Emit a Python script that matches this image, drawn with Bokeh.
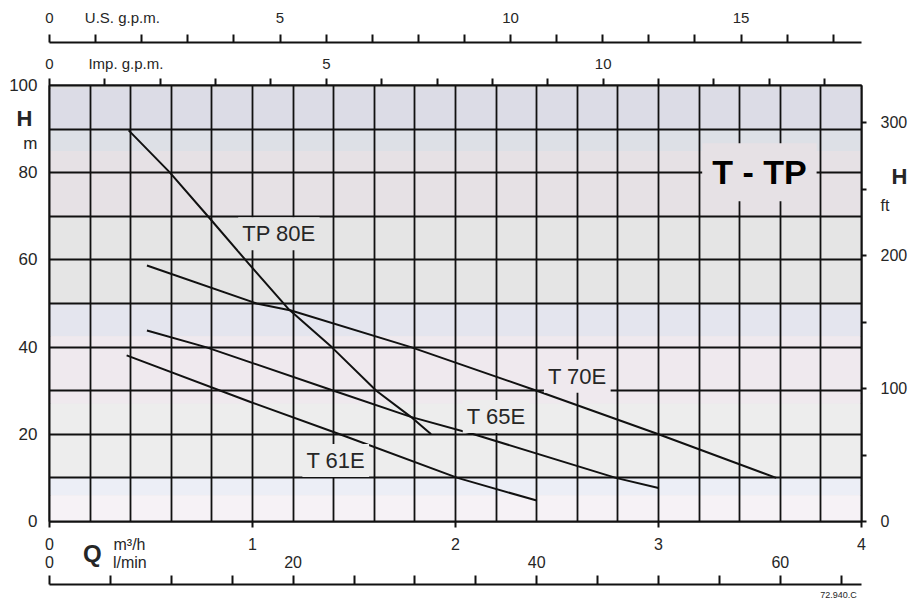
from bokeh.plotting import figure
from bokeh.models import LinearAxis, Range1d, FixedTicker, Grid, Label, BoxAnnotation
from bokeh.embed import file_html
from bokeh.resources import INLINE

# ---------------- data ----------------
tp80_q = [0.39, 0.59, 0.79, 0.98, 1.18, 1.39, 1.61, 1.78, 1.88]
tp80_h = [89.7, 80.2, 69.5, 59.2, 48.6, 40.0, 30.0, 24.0, 20.0]
t70_q = [0.48, 1.02, 1.19, 1.78, 2.40, 3.00, 3.58]
t70_h = [58.7, 50.0, 48.4, 40.0, 30.0, 20.0, 10.0]
t65_q = [0.48, 0.77, 1.40, 1.78, 2.09, 2.79, 3.00]
t65_h = [43.8, 40.0, 30.0, 24.0, 20.0, 10.0, 7.7]
t61_q = [0.38, 0.99, 1.43, 2.01, 2.40]
t61_h = [38.1, 27.4, 20.0, 10.0, 4.8]

curve_names = ["TP 80E", "T 70E", "T 65E", "T 61E"]
curve_label_q = [1.13, 2.60, 2.20, 1.41]
curve_label_h = [66.0, 33.3, 24.1, 14.0]
title_text = "T - TP"

q_ticks = [0, 1, 2, 3, 4]            # m3/h
h_ticks = [0, 20, 40, 60, 80, 100]   # m
ft_ticks = [0, 100, 200, 300]
ft_minor = [0, 50, 100, 150, 200, 250, 300]
us_ticks = [0, 5, 10, 15]
us_minor = list(range(0, 18))
imp_ticks = [0, 5, 10]
imp_minor = list(range(0, 15))
lmin_ticks = [0, 20, 40, 60]
lmin_minor = list(range(0, 70, 5))
grid_q = [round(0.2 * i, 1) for i in range(21)]
grid_h = [10 * i for i in range(11)]

Q_MAX = 4.0
H_MAX = 100.0
M3H_TO_USGPM = 4.402868
M3H_TO_IMPGPM = 3.666154
M3H_TO_LMIN = 1000.0 / 60.0
M_TO_FT = 1.0 / 0.3048

# positions (in axis units) of the unit captions that sit in the tick-label rows
US_TXT = 1.58        # U.S. gpm
IMP_TXT = 1.38       # Imp. gpm
MH_TXT = 0.394       # m3/h
Q_TXT = 0.211        # m3/h
LMIN_TXT = 6.6       # l/min
CODE_TXT = 3.887     # m3/h
HL_TXT = 92.4        # m
ML_TXT = 86.7        # m
HR_TXT = 259.5       # ft
FT_TXT = 237.9       # ft

# ---------------- styling ----------------
FONT = "Liberation Sans"
INK = "#111111"
TXT = "#262626"

p = figure(width=910, height=603,
           x_range=Range1d(0, Q_MAX), y_range=Range1d(0, H_MAX),
           x_axis_type=None, y_axis_type=None,
           output_backend="svg", toolbar_location=None,
           min_border_left=49, min_border_right=44,
           min_border_top=85, min_border_bottom=82)
p.background_fill_color = "#e6e6e6"
p.border_fill_color = "white"
p.outline_line_color = INK
p.outline_line_width = 2

p.extra_x_ranges = {
    "us": Range1d(0, Q_MAX * M3H_TO_USGPM),
    "imp": Range1d(0, Q_MAX * M3H_TO_IMPGPM),
    "lmin": Range1d(0, Q_MAX * M3H_TO_LMIN),
}
p.extra_y_ranges = {"ft": Range1d(0, H_MAX * M_TO_FT)}

# background shading bands (decoration)
bands = [
    (99.3, 100.0, "#dcdcdc"),
    (90.0, 99.3, "#dcdce6"),
    (85.0, 90.0, "#dde0e6"),
    (70.0, 85.0, "#e6e1e5"),
    (50.0, 70.0, "#e5e5e5"),
    (42.5, 50.0, "#e4e5ee"),
    (27.0, 42.5, "#efe9ee"),
    (10.0, 27.0, "#ededed"),
    (6.0, 10.0, "#eceef6"),
    (0.0, 6.0, "#f6f2f6"),
]
for b0, b1, col in bands:
    p.add_layout(BoxAnnotation(bottom=b0, top=b1, fill_color=col, fill_alpha=1.0,
                               line_color=None, level="image"))

# grids
p.add_layout(Grid(dimension=0, ticker=FixedTicker(ticks=grid_q), grid_line_color=INK,
                  grid_line_width=1.8))
p.add_layout(Grid(dimension=1, ticker=FixedTicker(ticks=grid_h), grid_line_color=INK,
                  grid_line_width=1.8))


def axis(side, ticks, texts=None, size="15px", standoff=5, minor=(), minor_out=0,
         minor_in=0, line=True, style="normal", spacer=None, **rng):
    texts = texts or {}
    ax = LinearAxis(ticker=FixedTicker(ticks=list(ticks) + list(texts.keys()),
                                       minor_ticks=list(minor)), **rng)
    overrides = {t: str(t) for t in ticks}
    overrides.update(texts)
    ax.major_label_overrides = overrides
    ax.axis_line_color = INK if line else None
    ax.axis_line_width = 2
    ax.major_tick_line_color = None
    ax.major_tick_out = 0
    ax.major_tick_in = 0
    ax.minor_tick_line_color = INK
    ax.minor_tick_line_width = 2
    ax.minor_tick_out = minor_out
    ax.minor_tick_in = minor_in
    ax.major_label_text_font = FONT
    ax.major_label_text_font_size = size
    ax.major_label_text_font_style = style
    ax.major_label_text_color = TXT
    ax.major_label_standoff = standoff
    if spacer is not None:
        ax.axis_label = " "
        ax.axis_label_text_font_size = spacer[0]
        ax.axis_label_standoff = spacer[1]
    p.add_layout(ax, side)
    return ax


# top: Imp. g.p.m. (on frame) then U.S. g.p.m.
axis("above", imp_ticks, {IMP_TXT: "Imp. g.p.m."}, "15px", 7, minor=imp_minor,
     minor_out=7, spacer=("6px", 0), x_range_name="imp")
axis("above", us_ticks, {US_TXT: "U.S. g.p.m."}, "15px", 9, minor=us_minor,
     minor_out=8, x_range_name="us")

# bottom: m3/h, Q caption, l/min, drawing code
axis("below", q_ticks, {MH_TXT: "m³/h"}, "16px", 8, minor=q_ticks, minor_out=6)
axis("below", [], {Q_TXT: "Q"}, "24px", -16, line=False, style="bold",
     spacer=("11px", 0))
axis("below", lmin_ticks, {LMIN_TXT: "l/min"}, "16px", -31, minor=lmin_minor,
     minor_in=9, spacer=("6px", 0), x_range_name="lmin")
axis("below", [], {CODE_TXT: "72.940.C"}, "9px", 5, line=False)

# left: metres, right: feet
axis("left", h_ticks, {ML_TXT: "m"}, "17px", 12)
axis("left", [], {HL_TXT: "H"}, "22px", -26, line=False, style="bold")
axis("right", ft_ticks, {FT_TXT: "ft"}, "16px", 14, minor=ft_minor, minor_out=5,
     y_range_name="ft")
axis("right", [], {HR_TXT: "H"}, "22px", -19, line=False, style="bold",
     y_range_name="ft")

# curves
for qs, hs in [(tp80_q, tp80_h), (t70_q, t70_h), (t65_q, t65_h), (t61_q, t61_h)]:
    p.line(qs, hs, line_color=INK, line_width=2)

HAS_PAD = "padding" in Label.properties()


def add_text(x, y, text, size, bg, pad, style="normal", color=TXT):
    kw = dict(x=x, y=y, text=text, text_font=FONT, text_font_size=size,
              text_font_style=style, text_color=color, text_align="center",
              text_baseline="middle", background_fill_color=bg,
              background_fill_alpha=1.0)
    if HAS_PAD:
        kw["padding"] = pad
    p.add_layout(Label(**kw))


label_bgs = ["#e5e5e5", "#efe9ee", "#ededed", "#ededed"]
for name, lq, lh, bg in zip(curve_names, curve_label_q, curve_label_h, label_bgs):
    add_text(lq, lh, name, "22px", bg, 4)

add_text(3.497, 80.1, title_text, "34px", "#e6e1e5", 10, style="bold", color="#000000")

open("out.html", "w").write(file_html(p, INLINE))
